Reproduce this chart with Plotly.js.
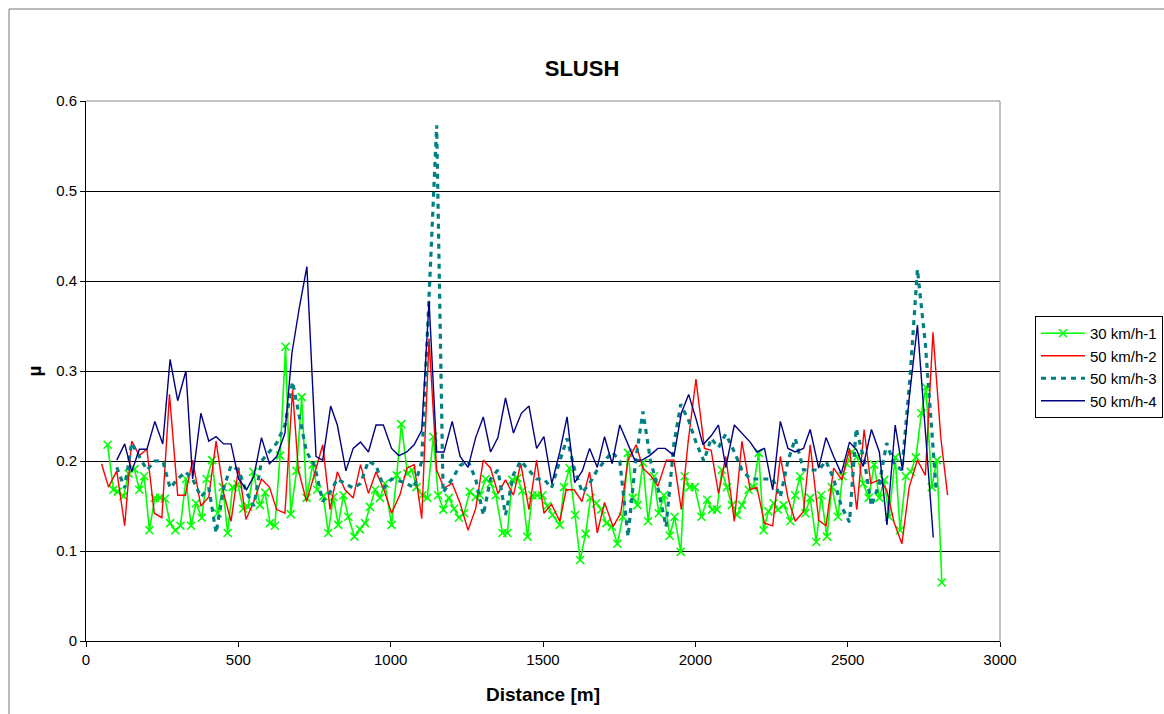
<!DOCTYPE html>
<html>
<head>
<meta charset="utf-8">
<script src="https://cdn.plot.ly/plotly-3.0.1.min.js"></script>
<style>html,body{margin:0;padding:0;background:#fff;}#chart{width:1164px;height:714px;}</style>
</head>
<body>
<div id="chart"></div>
<script>
// ---- Data ----
const seriesNames = ["30 km/h-1", "50 km/h-2", "50 km/h-3", "50 km/h-4"];

const dist30_1 = [71,90,104,123,140,159,175,191,208,226,243,259,276,293,310,328,345,361,380,396,414,432,449,465,481,498,516,532,549,571,588,604,620,637,655,672,691,708,724,744,759,779,795,812,828,845,861,881,899,916,932,949,965,981,1003,1020,1035,1055,1070,1085,1104,1120,1140,1156,1173,1191,1208,1224,1241,1260,1279,1293,1312,1328,1345,1367,1383,1399,1416,1432,1449,1465,1481,1498,1514,1531,1555,1569,1587,1606,1622,1640,1656,1675,1691,1708,1726,1744,1762,1779,1795,1810,1828,1845,1864,1880,1897,1916,1932,1952,1965,1981,1998,2020,2039,2055,2071,2087,2104,2120,2137,2153,2175,2191,2208,2224,2240,2257,2271,2290,2312,2328,2344,2361,2377,2397,2413,2432,2448,2468,2483,2497,2514,2532,2551,2569,2587,2604,2620,2636,2656,2672,2691,2707,2724,2742,2757,2776,2793,2809];
const mu30_1 = [0.218,0.168,0.166,0.161,0.186,0.191,0.168,0.183,0.123,0.159,0.159,0.158,0.131,0.123,0.128,0.180,0.128,0.153,0.137,0.180,0.201,0.142,0.171,0.120,0.171,0.174,0.147,0.149,0.188,0.151,0.165,0.131,0.128,0.206,0.327,0.141,0.189,0.271,0.159,0.196,0.168,0.161,0.120,0.160,0.129,0.162,0.138,0.116,0.124,0.131,0.149,0.168,0.159,0.175,0.129,0.184,0.241,0.186,0.190,0.171,0.162,0.159,0.227,0.162,0.146,0.159,0.147,0.137,0.142,0.166,0.160,0.162,0.180,0.175,0.162,0.120,0.120,0.179,0.181,0.167,0.116,0.162,0.162,0.162,0.150,0.140,0.129,0.171,0.192,0.140,0.090,0.119,0.159,0.153,0.146,0.131,0.127,0.108,0.138,0.209,0.159,0.151,0.198,0.133,0.183,0.142,0.162,0.117,0.138,0.099,0.183,0.171,0.171,0.138,0.157,0.146,0.146,0.190,0.171,0.151,0.140,0.151,0.168,0.171,0.209,0.123,0.144,0.153,0.146,0.151,0.133,0.162,0.183,0.142,0.159,0.110,0.162,0.116,0.171,0.138,0.183,0.197,0.210,0.205,0.175,0.159,0.196,0.159,0.179,0.138,0.204,0.123,0.183,0.188,0.204,0.253,0.282,0.171,0.201,0.065];

const dist50_2 = [51,74,101,127,150,175,200,224,249,274,301,326,350,377,403,427,452,476,501,525,551,576,602,626,653,678,697,724,748,777,801,825,850,877,901,927,952,978,1003,1031,1053,1077,1102,1126,1151,1175,1202,1228,1254,1279,1304,1328,1352,1377,1403,1427,1454,1479,1503,1528,1555,1576,1602,1628,1653,1678,1702,1730,1755,1779,1806,1828,1853,1877,1905,1930,1954,1976,2002,2030,2052,2076,2100,2128,2153,2180,2202,2227,2254,2279,2304,2328,2355,2377,2405,2429,2454,2481,2506,2530,2554,2576,2604,2628,2653,2678,2702,2729,2755,2780,2806,2828];
const mu50_2 = [0.197,0.171,0.189,0.128,0.222,0.206,0.213,0.142,0.137,0.274,0.162,0.162,0.201,0.150,0.160,0.222,0.164,0.133,0.193,0.135,0.155,0.180,0.171,0.146,0.142,0.279,0.190,0.155,0.183,0.218,0.146,0.188,0.168,0.159,0.196,0.164,0.188,0.168,0.142,0.163,0.192,0.196,0.136,0.336,0.190,0.170,0.175,0.153,0.123,0.147,0.201,0.192,0.164,0.179,0.162,0.197,0.146,0.201,0.142,0.152,0.133,0.168,0.168,0.155,0.188,0.120,0.154,0.127,0.142,0.201,0.218,0.192,0.184,0.172,0.201,0.201,0.146,0.220,0.291,0.214,0.212,0.164,0.205,0.133,0.222,0.168,0.171,0.131,0.128,0.205,0.159,0.133,0.144,0.218,0.134,0.128,0.192,0.179,0.214,0.146,0.235,0.175,0.179,0.168,0.131,0.108,0.171,0.201,0.184,0.343,0.225,0.162];

const dist50_3 = [101,127,150,175,200,226,252,276,301,326,350,377,403,427,452,476,501,527,551,576,602,626,653,678,700,724,750,777,801,825,850,877,901,927,952,978,1003,1028,1053,1077,1102,1126,1151,1172,1202,1228,1254,1279,1304,1328,1352,1377,1403,1427,1454,1479,1503,1528,1555,1579,1604,1629,1653,1678,1702,1727,1752,1779,1804,1828,1853,1877,1904,1930,1952,1978,2003,2028,2052,2076,2100,2128,2153,2180,2202,2227,2254,2279,2304,2328,2355,2377,2405,2429,2454,2479,2506,2528,2555,2578,2604,2628,2653,2678,2704,2729,2755,2790];
const mu50_3 = [0.193,0.170,0.220,0.205,0.190,0.200,0.200,0.170,0.180,0.188,0.180,0.160,0.170,0.120,0.170,0.195,0.190,0.165,0.150,0.200,0.210,0.220,0.240,0.288,0.250,0.210,0.195,0.155,0.165,0.180,0.175,0.170,0.175,0.200,0.195,0.170,0.180,0.178,0.175,0.170,0.200,0.390,0.573,0.165,0.180,0.195,0.200,0.180,0.140,0.180,0.190,0.140,0.185,0.200,0.190,0.180,0.180,0.170,0.200,0.225,0.190,0.165,0.175,0.190,0.200,0.210,0.200,0.116,0.200,0.255,0.200,0.170,0.127,0.220,0.263,0.245,0.220,0.200,0.225,0.215,0.230,0.210,0.190,0.180,0.180,0.180,0.180,0.160,0.200,0.225,0.190,0.190,0.190,0.200,0.180,0.150,0.132,0.236,0.200,0.150,0.175,0.220,0.196,0.190,0.290,0.413,0.330,0.170];

const dist50_4 = [101,127,150,175,200,226,252,276,301,328,350,377,403,427,452,476,501,527,551,576,602,626,653,676,700,725,755,777,803,825,853,877,901,927,952,976,1003,1027,1053,1077,1102,1126,1151,1175,1202,1228,1254,1279,1304,1328,1352,1377,1403,1429,1454,1479,1503,1529,1555,1579,1604,1629,1653,1678,1702,1727,1752,1777,1801,1825,1850,1877,1901,1930,1954,1978,2003,2025,2052,2076,2100,2128,2153,2180,2202,2227,2254,2279,2304,2328,2355,2377,2405,2429,2454,2479,2506,2530,2551,2578,2604,2629,2656,2680,2702,2729,2755,2781];
const mu50_4 = [0.201,0.219,0.188,0.213,0.213,0.244,0.219,0.313,0.267,0.300,0.180,0.253,0.222,0.227,0.219,0.219,0.180,0.168,0.183,0.226,0.197,0.205,0.231,0.320,0.370,0.416,0.205,0.201,0.261,0.240,0.189,0.214,0.221,0.210,0.240,0.240,0.214,0.206,0.210,0.218,0.234,0.378,0.210,0.210,0.244,0.205,0.193,0.226,0.249,0.210,0.226,0.270,0.231,0.253,0.261,0.214,0.227,0.175,0.210,0.249,0.176,0.189,0.214,0.193,0.227,0.197,0.240,0.220,0.201,0.201,0.206,0.214,0.214,0.206,0.253,0.274,0.246,0.218,0.228,0.240,0.193,0.240,0.231,0.221,0.210,0.214,0.168,0.244,0.214,0.210,0.214,0.235,0.192,0.226,0.205,0.186,0.221,0.212,0.194,0.235,0.210,0.129,0.240,0.190,0.270,0.351,0.233,0.115];

const xTicks = [0, 500, 1000, 1500, 2000, 2500, 3000];
const yTicks = [0, 0.1, 0.2, 0.3, 0.4, 0.5, 0.6];

// ---- Chart ----
const FONT = "Liberation Sans, Arial, sans-serif";
const traces = [
  {x: dist30_1, y: mu30_1, name: seriesNames[0], legendgroup: "a", type: "scatter", mode: "lines+markers",
   line: {color: "#00FF00", width: 1.6}, marker: {symbol: "x-thin-open", size: 8, color: "#00FF00", line: {color: "#00FF00", width: 1.6}}},
  {x: dist50_2, y: mu50_2, name: seriesNames[1], legendgroup: "b", type: "scatter", mode: "lines",
   line: {color: "#FF0000", width: 1.4}},
  {x: dist50_3, y: mu50_3, name: seriesNames[2], legendgroup: "c", type: "scatter", mode: "lines",
   line: {color: "#008080", width: 3.2, dash: "5px,5px"}},
  {x: dist50_4, y: mu50_4, name: seriesNames[3], legendgroup: "d", type: "scatter", mode: "lines",
   line: {color: "#000080", width: 1.4}}
];

const layout = {
  width: 1164, height: 714,
  margin: {l: 86, r: 164, t: 101, b: 73, pad: 0},
  paper_bgcolor: "#FFFFFF", plot_bgcolor: "#FFFFFF",
  font: {family: FONT, size: 15, color: "#000"},
  title: {text: "<b>SLUSH</b>", x: 582/1164, xref: "container", xanchor: "center", y: 1 - 68/714, yref: "container", yanchor: "middle",
          font: {family: FONT, size: 22, color: "#000"}},
  xaxis: {range: [0, 3000], tickvals: xTicks, ticktext: xTicks.map(String), showgrid: false, zeroline: false, automargin: false,
          showline: true, linecolor: "#000", linewidth: 1, ticks: "outside", ticklen: 5, tickcolor: "#000",
          tickfont: {family: FONT, size: 15, color: "#000"},
          title: {text: "<b>Distance [m]</b>", standoff: 20, font: {family: FONT, size: 19, color: "#000"}}},
  yaxis: {range: [0, 0.6], tickvals: yTicks, ticktext: yTicks.map(v => String(v)), showgrid: true, gridcolor: "#000", gridwidth: 1,
          zeroline: false, showline: true, linecolor: "#000", linewidth: 1, ticks: "outside", ticklen: 5, tickcolor: "#000", automargin: false,
          tickfont: {family: FONT, size: 15, color: "#000"},
          title: {text: "<b>µ</b>", standoff: 9, font: {family: FONT, size: 19, color: "#000"}}},
  showlegend: true,
  legend: {xref: "container", yref: "container", x: 1035/1164, xanchor: "left", y: 1 - 316/714, yanchor: "top",
           bordercolor: "#000", borderwidth: 1, bgcolor: "#FFFFFF",
           font: {family: FONT, size: 15, color: "#000"}, tracegroupgap: 3, itemwidth: 44, traceorder: "normal"},
  shapes: [
    {type: "rect", xref: "paper", yref: "paper", x0: (9-86)/914, x1: (1175-86)/914, y0: (641-725)/540, y1: (641-9)/540,
     line: {color: "#777", width: 1}, fillcolor: "rgba(0,0,0,0)", layer: "below"},
    {type: "line", xref: "paper", yref: "paper", x0: 0, x1: 1, y0: 1, y1: 1, line: {color: "#888", width: 1}},
    {type: "line", xref: "paper", yref: "paper", x0: 1, x1: 1, y0: 0, y1: 1, line: {color: "#888", width: 1}}
  ]
};

Plotly.newPlot("chart", traces, layout, {displayModeBar: false, staticPlot: true});
</script>
</body>
</html>
